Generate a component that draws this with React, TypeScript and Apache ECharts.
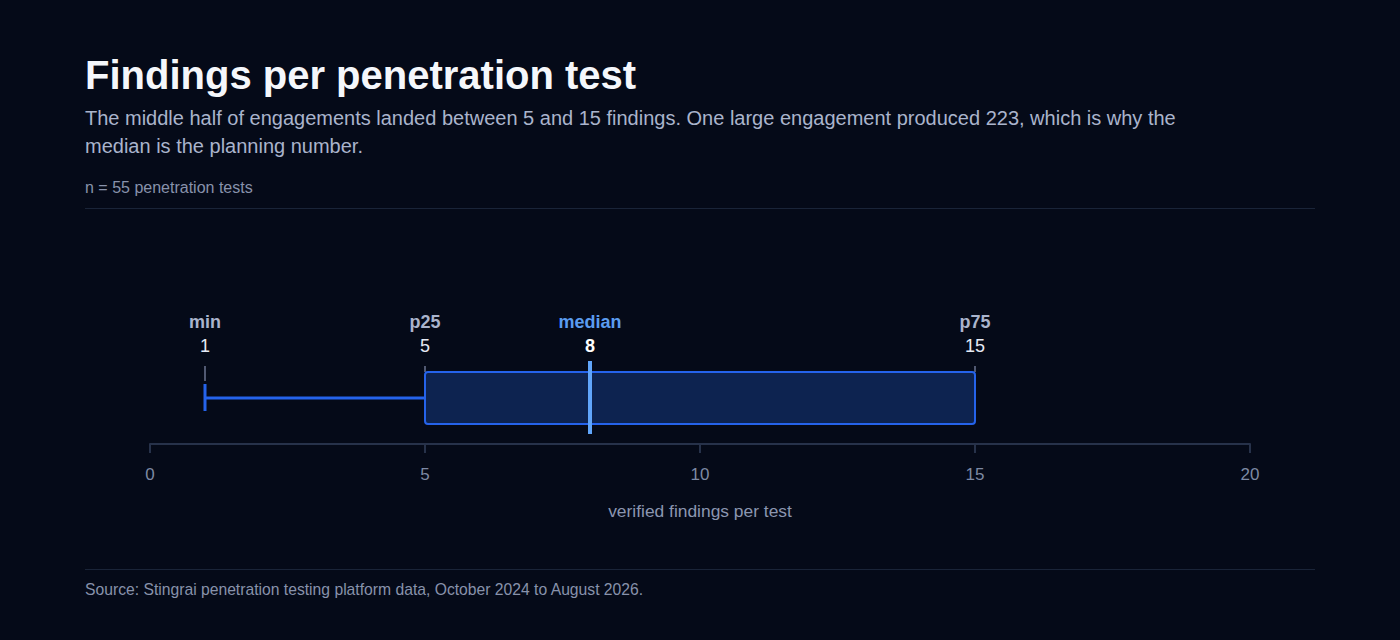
import React, { useEffect, useRef } from 'react';
import * as echarts from 'echarts';

// box statistics
const statNames = ['min', 'p25', 'median', 'p75'];
const statValues = [1, 5, 8, 15];
const maxValue = 223;

const axisMin = 0;
const axisMax = 20;
const axisStep = 5;

const titleText = 'Findings per penetration test';
const subtitleLines = [
  'The middle half of engagements landed between 5 and 15 findings. One large engagement produced 223, which is why the',
  'median is the planning number.',
];
const noteText = 'n = 55 penetration tests';
const sourceText = 'Source: Stingrai penetration testing platform data, October 2024 to August 2026.';
const axisName = 'verified findings per test';

const FONT = '"Liberation Sans", Arial, Helvetica, sans-serif';
const BG = '#050a18';

const App: React.FC = () => {
  const chartRef = useRef<HTMLDivElement>(null);

  useEffect(() => {
    document.body.style.margin = '0';
    document.body.style.background = BG;
    if (!chartRef.current) return;
    const chart = echarts.init(chartRef.current, undefined, { renderer: 'svg' });

    const renderItem = (params: any, api: any) => {
      const vMin = api.value(0);
      const p25 = api.value(1);
      const med = api.value(2);
      const p75 = api.value(3);
      const base = api.coord([axisMin, 0])[1];
      const px = (v: number) => api.coord([v, 0])[0];
      const mid = base - 46;
      const children: any[] = [];

      // grey pointer ticks under the labels
      [vMin, p25, p75].forEach((v, i) => {
        children.push({
          type: 'line',
          shape: { x1: px(v), y1: base - 78, x2: px(v), y2: i === 0 ? base - 63 : base - 72 },
          style: { stroke: '#6b7590', lineWidth: 1.5 },
        });
      });

      // whisker to min
      children.push({
        type: 'line',
        shape: { x1: px(vMin), y1: mid, x2: px(p25), y2: mid },
        style: { stroke: '#2563eb', lineWidth: 3 },
      });
      children.push({
        type: 'line',
        shape: { x1: px(vMin), y1: mid - 14, x2: px(vMin), y2: mid + 13 },
        style: { stroke: '#2563eb', lineWidth: 3 },
      });

      // box
      children.push({
        type: 'rect',
        shape: { x: px(p25), y: mid - 26, width: px(p75) - px(p25), height: 52, r: 3 },
        style: { fill: '#0d2350', stroke: '#2563eb', lineWidth: 2 },
      });

      // median
      children.push({
        type: 'line',
        shape: { x1: px(med), y1: base - 83, x2: px(med), y2: base - 10 },
        style: { stroke: '#60a5fa', lineWidth: 4 },
      });

      // labels
      statNames.forEach((name, i) => {
        const isMed = name === 'median';
        const x = px(statValues[i]);
        children.push({
          type: 'text',
          style: {
            text: name,
            x,
            y: base - 122,
            align: 'center',
            verticalAlign: 'middle',
            fill: isMed ? '#5b9cf0' : '#aab4cc',
            font: `bold 18px ${FONT}`,
          },
        });
        children.push({
          type: 'text',
          style: {
            text: String(statValues[i]),
            x,
            y: base - 98,
            align: 'center',
            verticalAlign: 'middle',
            fill: isMed ? '#ffffff' : '#e6ebf5',
            font: `${isMed ? 'bold ' : ''}18px ${FONT}`,
          },
        });
      });

      return { type: 'group', children };
    };

    const option: echarts.EChartsOption = {
      animation: false,
      backgroundColor: BG,
      textStyle: { fontFamily: FONT },
      grid: { left: 150, right: 150, top: 250, bottom: 196 },
      xAxis: {
        type: 'value',
        min: axisMin,
        max: axisMax,
        interval: axisStep,
        name: axisName,
        nameLocation: 'middle',
        nameGap: 58,
        nameTextStyle: { color: '#8b96b0', fontSize: 17.4, fontFamily: FONT },
        axisLine: { show: true, lineStyle: { color: '#27324a', width: 2 } },
        axisTick: { show: true, length: 9, lineStyle: { color: '#27324a', width: 2 } },
        axisLabel: { color: '#7d89a3', fontSize: 17, margin: 22, fontFamily: FONT },
        splitLine: { show: false },
      },
      yAxis: { type: 'value', min: 0, max: 1, show: false },
      graphic: [
        {
          type: 'text',
          x: 85,
          y: 75,
          style: { text: titleText, fill: '#f5f7fb', font: `bold 40px ${FONT}`, verticalAlign: 'middle' },
        },
        ...subtitleLines.map((line, i) => ({
          type: 'text' as const,
          x: 85,
          y: 118 + i * 28,
          style: { text: line, fill: '#aab4cc', font: `20px ${FONT}`, verticalAlign: 'middle' as const },
        })),
        {
          type: 'text',
          x: 85,
          y: 187,
          style: { text: noteText, fill: '#8892ab', font: `16px ${FONT}`, verticalAlign: 'middle' },
        },
        {
          type: 'line',
          shape: { x1: 85, y1: 208.5, x2: 1315, y2: 208.5 },
          style: { stroke: '#1a2438', lineWidth: 1 },
        },
        {
          type: 'line',
          shape: { x1: 85, y1: 569.5, x2: 1315, y2: 569.5 },
          style: { stroke: '#1a2438', lineWidth: 1 },
        },
        {
          type: 'text',
          x: 85,
          y: 589,
          style: { text: sourceText, fill: '#8892ab', font: `15.7px ${FONT}`, verticalAlign: 'middle' },
        },
      ],
      series: [
        {
          type: 'custom',
          renderItem: renderItem as any,
          data: [[...statValues, maxValue]],
          encode: { x: [0, 1, 2, 3], y: [] as any },
          clip: false,
          silent: true,
        },
      ],
    };

    chart.setOption(option);
    return () => {
      chart.dispose();
    };
  }, []);

  return <div ref={chartRef} style={{ width: 1400, height: 640 }} />;
};

export default App;
